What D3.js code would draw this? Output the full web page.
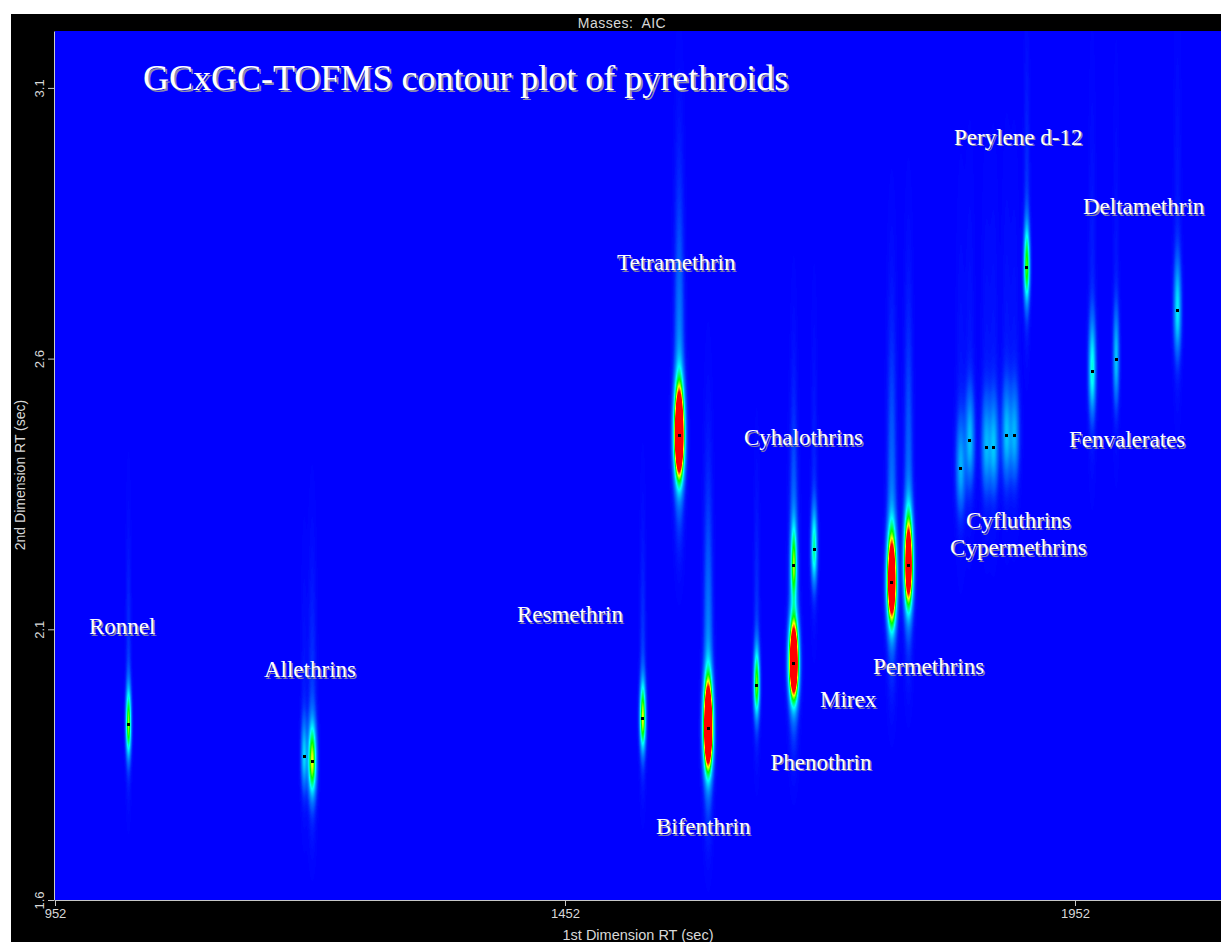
<!DOCTYPE html>
<html>
<head>
<meta charset="utf-8">
<script src="https://cdn.jsdelivr.net/npm/d3@7"></script>
<style>
  body { margin: 0; background: #fff; }
  svg { display: block; }
</style>
</head>
<body>
<svg id="chart" width="1221" height="942"></svg>
<script>
// peaks: 1st dimension RT (s), 2nd dimension RT (s), relative intensity, peak widths (s)
const peakRt1 = [1023.6, 1195.8, 1203.7, 1527.8, 1563.5, 1591.9, 1639.5, 1675.8, 1675.8, 1695.8,
  1771.9, 1788.3, 1839.5, 1848.4, 1864.5, 1871.9, 1884.4, 1892.2, 1904.3, 1968.4, 1991.9, 2052.0];
const peakRt2 = [1.925, 1.866, 1.856, 1.936, 2.458, 1.917, 1.998, 2.037, 2.219, 2.249,
  2.188, 2.219, 2.398, 2.449, 2.437, 2.437, 2.458, 2.458, 2.770, 2.578, 2.599, 2.689];
const peakHeight = [0.55, 0.22, 0.6, 0.6, 1.8, 1.8, 0.52, 1.6, 0.45, 0.35,
  1.45, 1.3, 0.18, 0.2, 0.18, 0.2, 0.2, 0.18, 0.5, 0.3, 0.2, 0.25];
const peakWidth1 = [1.7, 2.0, 2.6, 1.9, 3.0, 2.8, 1.9, 2.9, 2.0, 2.0,
  2.9, 2.7, 3.0, 3.0, 3.0, 3.0, 3.0, 3.0, 1.9, 2.3, 2.0, 2.4];
const peakWidth2 = [0.039, 0.04, 0.042, 0.039, 0.052, 0.05, 0.04, 0.044, 0.044, 0.044,
  0.052, 0.052, 0.055, 0.055, 0.055, 0.055, 0.055, 0.055, 0.045, 0.055, 0.055, 0.055];

// compound labels, anchored at (RT1, RT2)
const labelText = ["Ronnel", "Allethrins", "Resmethrin", "Tetramethrin", "Bifenthrin", "Phenothrin",
  "Mirex", "Cyhalothrins", "Permethrins", "Cyfluthrins", "Cypermethrins", "Perylene d-12",
  "Deltamethrin", "Fenvalerates"];
const labelRt1 = [985.3, 1156.9, 1404.9, 1503.0, 1541.2, 1653.5, 1702.0, 1627.5, 1754.0,
  1845.1, 1829.5, 1833.4, 1959.8, 1946.1];
const labelRt2 = [2.091, 2.011, 2.113, 2.763, 1.721, 1.841, 1.956, 2.440, 2.017,
  2.287, 2.237, 2.995, 2.867, 2.436];

const xTicks = [952, 1452, 1952];
const yTicks = [1.6, 2.1, 2.6, 3.1];

const W = 1221, H = 942;
const plotL = 55, plotR = 1221, plotT = 31, plotB = 900;

const x = d3.scaleLinear().domain([952, 952 + (plotR - plotL) * 500 / 510]).range([plotL, plotR]);
const y = d3.scaleLinear().domain([1.6, 1.6 + (plotB - plotT) / 541.4]).range([plotB, plotT]);

const color = d3.scaleLinear()
  .domain([0, 0.07, 0.3, 0.5, 0.66, 0.82])
  .range(["#0000ff", "#0050ff", "#00ffff", "#00ff00", "#ffff00", "#ff0000"])
  .clamp(true);

const svg = d3.select("#chart");

svg.append("rect").attr("x", 11).attr("y", 14).attr("width", W - 11).attr("height", H - 14).attr("fill", "#000");

// intensity field
const pw = plotR - plotL, ph = plotB - plotT;
const field = new Float32Array(pw * ph);
peakRt1.forEach((r1, i) => {
  const cx = x(r1) - plotL, cy = y(peakRt2[i]) - plotT;
  const sx = x(r1 + peakWidth1[i]) - x(r1);
  const sy = y(peakRt2[i]) - y(peakRt2[i] + peakWidth2[i]);
  const a = peakHeight[i];
  const x0 = Math.max(0, Math.floor(cx - 6 * sx)), x1 = Math.min(pw - 1, Math.ceil(cx + 6 * sx));
  const y0 = Math.max(0, Math.floor(cy - 20 * sy)), y1 = Math.min(ph - 1, Math.ceil(cy + 8 * sy));
  for (let py = y0; py <= y1; py++) {
    const dy = py - cy;
    const up = dy < 0;
    const core = Math.exp(-0.5 * Math.pow(dy / (sy * (up ? 1.1 : 0.9)), 2));
    const tail = 0.1 * Math.exp(-0.5 * Math.pow(dy / (sy * (up ? 5 : 2)), 2));
    const vy = core + tail;
    for (let px = x0; px <= x1; px++) {
      const dx = px - cx;
      field[py * pw + px] += a * vy * Math.exp(-0.5 * (dx / sx) * (dx / sx));
    }
  }
});

const lut = d3.range(256).map(k => d3.rgb(color(k / 255)));
const canvas = document.createElement("canvas");
canvas.width = pw; canvas.height = ph;
const ctx = canvas.getContext("2d");
const img = ctx.createImageData(pw, ph);
for (let k = 0; k < field.length; k++) {
  const c = lut[Math.min(255, Math.round(Math.min(1, field[k]) * 255))];
  img.data[4 * k] = c.r; img.data[4 * k + 1] = c.g; img.data[4 * k + 2] = c.b; img.data[4 * k + 3] = 255;
}
ctx.putImageData(img, 0, 0);

svg.append("image")
  .attr("x", plotL).attr("y", plotT)
  .attr("width", pw).attr("height", ph)
  .attr("href", canvas.toDataURL());

// peak markers
svg.append("g").selectAll("rect")
  .data(peakRt1)
  .join("rect")
  .attr("x", (d) => Math.round(x(d)) - 1)
  .attr("y", (d, i) => Math.round(y(peakRt2[i])) - 1)
  .attr("width", 3).attr("height", 3)
  .attr("fill", "#000");

// labels with a soft shadow
const labels = svg.append("g")
  .attr("font-family", "'Liberation Serif', 'Times New Roman', serif")
  .attr("font-size", 23);
labels.selectAll(".shadow")
  .data(labelText)
  .join("text")
  .attr("class", "shadow")
  .attr("x", (d, i) => x(labelRt1[i]) + 1.5)
  .attr("y", (d, i) => y(labelRt2[i]) + 1.5)
  .attr("fill", "#8080a8")
  .text((d) => d);
labels.selectAll(".lbl")
  .data(labelText)
  .join("text")
  .attr("class", "lbl")
  .attr("x", (d, i) => x(labelRt1[i]))
  .attr("y", (d, i) => y(labelRt2[i]))
  .attr("fill", "#fff")
  .text((d) => d);

const title = "GCxGC-TOFMS contour plot of pyrethroids";
svg.append("text").attr("x", 145).attr("y", 92)
  .attr("font-family", "'Liberation Serif', serif").attr("font-size", 36)
  .attr("fill", "#8c8cac").text(title);
svg.append("text").attr("x", 143).attr("y", 90)
  .attr("font-family", "'Liberation Serif', serif").attr("font-size", 36)
  .attr("fill", "#fff").text(title);

// axes
const xAxis = svg.append("g")
  .attr("transform", "translate(0," + plotB + ")")
  .call(d3.axisBottom(x).tickValues(xTicks).tickFormat(d3.format("d")).tickSize(6).tickSizeOuter(0));
const yAxis = svg.append("g")
  .attr("transform", "translate(" + (plotL - 1) + ",0)")
  .call(d3.axisLeft(y).tickValues(yTicks).tickFormat(d3.format(".1f")).tickSize(6).tickSizeOuter(0));

yAxis.selectAll(".tick text")
  .attr("x", 0).attr("y", 0).attr("dy", 0)
  .attr("text-anchor", "middle")
  .attr("transform", "translate(-10,0) rotate(-90)");

[xAxis, yAxis].forEach(ax => {
  ax.attr("font-family", "'Liberation Sans', Arial, sans-serif").attr("font-size", 13);
  ax.selectAll("path, line").attr("stroke", "#c8c8c8");
  ax.selectAll("text").attr("fill", "#d8d8d8");
});

svg.append("text").attr("x", 622).attr("y", 28).attr("text-anchor", "middle")
  .attr("font-family", "'Liberation Sans', Arial, sans-serif").attr("font-size", 14)
  .attr("letter-spacing", 0.5).style("white-space", "pre")
  .attr("fill", "#d8d8d8").text("Masses:  AIC");
svg.append("text").attr("x", 638).attr("y", 940).attr("text-anchor", "middle")
  .attr("font-family", "'Liberation Sans', Arial, sans-serif").attr("font-size", 14.5)
  .attr("fill", "#d8d8d8").text("1st Dimension RT (sec)");
svg.append("text").attr("transform", "translate(25,475) rotate(-90)").attr("text-anchor", "middle")
  .attr("font-family", "'Liberation Sans', Arial, sans-serif").attr("font-size", 14)
  .attr("fill", "#d8d8d8").text("2nd Dimension RT (sec)");
</script>
</body>
</html>
